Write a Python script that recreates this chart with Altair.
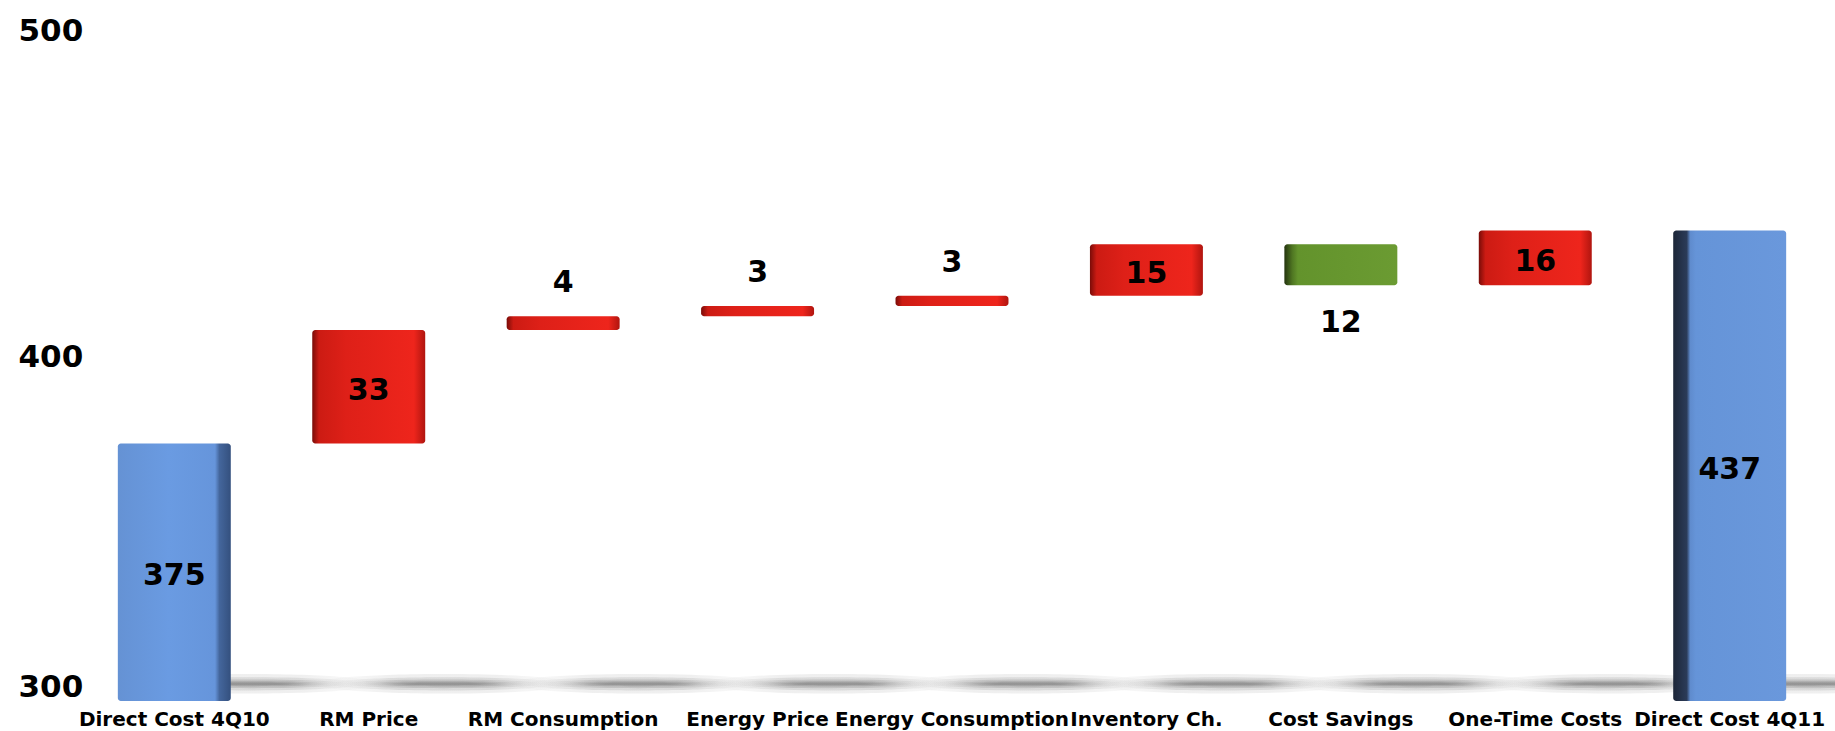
import altair as alt
import pandas as pd

# Bridge of direct cost from 4Q10 to 4Q11
categories = [
    "Direct Cost 4Q10", "RM Price", "RM Consumption", "Energy Price",
    "Energy Consumption", "Inventory Ch.", "Cost Savings", "One-Time Costs",
    "Direct Cost 4Q11",
]
amounts = [375, 33, 4, 3, 3, 15, -12, 16, 437]
is_total = [True, False, False, False, False, False, False, False, True]
y_ticks = [300, 400, 500]
axis_floor = 300

rows = []
running = 0
for order, (cat, amt, total) in enumerate(zip(categories, amounts, is_total)):
    if total:
        start, end, kind = axis_floor, amt, "total"
        running = amt
    else:
        start, end = running, running + amt
        running = end
        kind = "increase" if amt > 0 else "decrease"
    rows.append({
        "category": cat, "order": order, "amount": amt, "kind": kind,
        "start": start, "end": end, "label": str(abs(amt)),
        "top": max(start, end), "bottom": min(start, end),
        "mid": (start + end) / 2,
    })
df = pd.DataFrame(rows)

FONT = "DejaVu Sans"

x_enc = alt.X(
    "category:N", sort=categories, title=None,
    scale=alt.Scale(paddingInner=0.419, paddingOuter=0.21),
    axis=alt.Axis(
        domain=False, ticks=False, tickSize=0, grid=False, labelAngle=0,
        labelFont=FONT, labelFontSize=20, labelFontWeight="bold",
        labelColor="#000000", labelPadding=8, labelLimit=0,
        labelOverlap=False,
    ),
)
y_scale = alt.Scale(domain=[300, 500], nice=False, zero=False)
y_axis = alt.Axis(
    values=y_ticks, domain=False, ticks=False, tickSize=0, grid=False,
    labelFont=FONT, labelFontSize=31, labelFontWeight="bold",
    labelColor="#000000", labelAlign="left", labelPadding=59,
    labelBaseline="middle",
    labelOffset={
        "condition": [
            {"test": "datum.value == 500", "value": 17},
            {"test": "datum.value == 300", "value": -14},
        ],
        "value": 0,
    },
)

base = alt.Chart(df)


def stops(pairs):
    return [alt.GradientStop(offset=o, color=c) for o, c in pairs]


def ellipse(ry):
    return f"M-1,0 A1,{ry} 0 1,0 1,0 A1,{ry} 0 1,0 -1,0 Z"


# Soft floor shadows cast to the right of each column, built from
# stacked translucent ellipses that fade out towards their ends
shadow_fill = alt.LinearGradient(
    gradient="linear", x1=0, y1=0, x2=1, y2=0,
    stops=stops([(0, "rgba(100,100,100,0)"), (0.3, "rgba(100,100,100,1)"),
                 (0.7, "rgba(100,100,100,1)"), (1, "rgba(100,100,100,0)")]),
)
shadow_layers = []
for w, ry, op in [(260, 0.075, 0.10), (230, 0.058, 0.15),
                  (200, 0.044, 0.2), (165, 0.032, 0.25), (130, 0.022, 0.3)]:
    shadow_layers.append(
        base.mark_point(
            shape=ellipse(ry), size=w * w, filled=True, fill=shadow_fill,
            fillOpacity=op, strokeWidth=0, xOffset=75,
        ).encode(
            x=x_enc,
            y=alt.Y("shadow_y:Q", scale=y_scale, axis=y_axis, title=None),
        ).transform_calculate(shadow_y="305")
    )

bar_common = dict(cornerRadius=3)

first_total = base.transform_filter("datum.order == 0").mark_bar(
    color=alt.LinearGradient(
        gradient="linear", x1=0, y1=0, x2=1, y2=0,
        stops=stops([(0, "#6592d4"), (0.45, "#6a9be2"), (0.86, "#6695db"),
                     (0.9, "#44669c"), (1, "#34507e")]),
    ), **bar_common,
).encode(x=x_enc, y=alt.Y("start:Q", scale=y_scale, axis=y_axis), y2="end:Q")

last_total = base.transform_filter(f"datum.order == {len(categories) - 1}").mark_bar(
    color=alt.LinearGradient(
        gradient="linear", x1=0, y1=0, x2=1, y2=0,
        stops=stops([(0, "#1c2638"), (0.12, "#2b3b58"), (0.15, "#5f8bcd"),
                     (0.2, "#6594d8"), (1, "#6a98dc")]),
    ), **bar_common,
).encode(x=x_enc, y=alt.Y("start:Q", scale=y_scale, axis=y_axis), y2="end:Q")

increases = base.transform_filter("datum.kind == 'increase'").mark_bar(
    color=alt.LinearGradient(
        gradient="linear", x1=0, y1=0, x2=1, y2=0,
        stops=stops([(0, "#7a0c08"), (0.06, "#cc1b13"), (0.3, "#de2018"),
                     (0.9, "#ee251c"), (1, "#b0150f")]),
    ), **bar_common,
).encode(x=x_enc, y=alt.Y("start:Q", scale=y_scale, axis=y_axis), y2="end:Q")

decreases = base.transform_filter("datum.kind == 'decrease'").mark_bar(
    color=alt.LinearGradient(
        gradient="linear", x1=0, y1=0, x2=1, y2=0,
        stops=stops([(0, "#24340f"), (0.07, "#4f7622"), (0.12, "#63932c"),
                     (1, "#6b9b32")]),
    ), **bar_common,
).encode(x=x_enc, y=alt.Y("start:Q", scale=y_scale, axis=y_axis), y2="end:Q")

text_common = dict(font=FONT, fontSize=30, fontWeight="bold", color="#000000",
                   baseline="middle", align="center")

# Values printed inside tall columns, above thin ones, below decreases
inside = base.transform_filter(
    "datum.kind == 'total' || (datum.amount >= 10)"
).mark_text(dy=4, **text_common).encode(
    x=x_enc, y=alt.Y("mid:Q", scale=y_scale, axis=y_axis), text="label:N"
)
above = base.transform_filter(
    "datum.kind != 'total' && datum.amount > 0 && datum.amount < 10"
).mark_text(dy=-33, **text_common).encode(
    x=x_enc, y=alt.Y("top:Q", scale=y_scale, axis=y_axis), text="label:N"
)
below = base.transform_filter(
    "datum.kind == 'decrease'"
).mark_text(dy=38, **text_common).encode(
    x=x_enc, y=alt.Y("bottom:Q", scale=y_scale, axis=y_axis), text="label:N"
)

chart = alt.layer(
    *shadow_layers, first_total, last_total, increases, decreases,
    inside, above, below,
).properties(
    width=1750, height=687,
    autosize=alt.AutoSizeParams(type="none"),
    padding={"left": 77, "top": 14, "right": 8, "bottom": 30},
    background="#ffffff",
).configure_view(stroke=None)

chart.save("out.html", embed_options={"renderer": "svg", "actions": False})
